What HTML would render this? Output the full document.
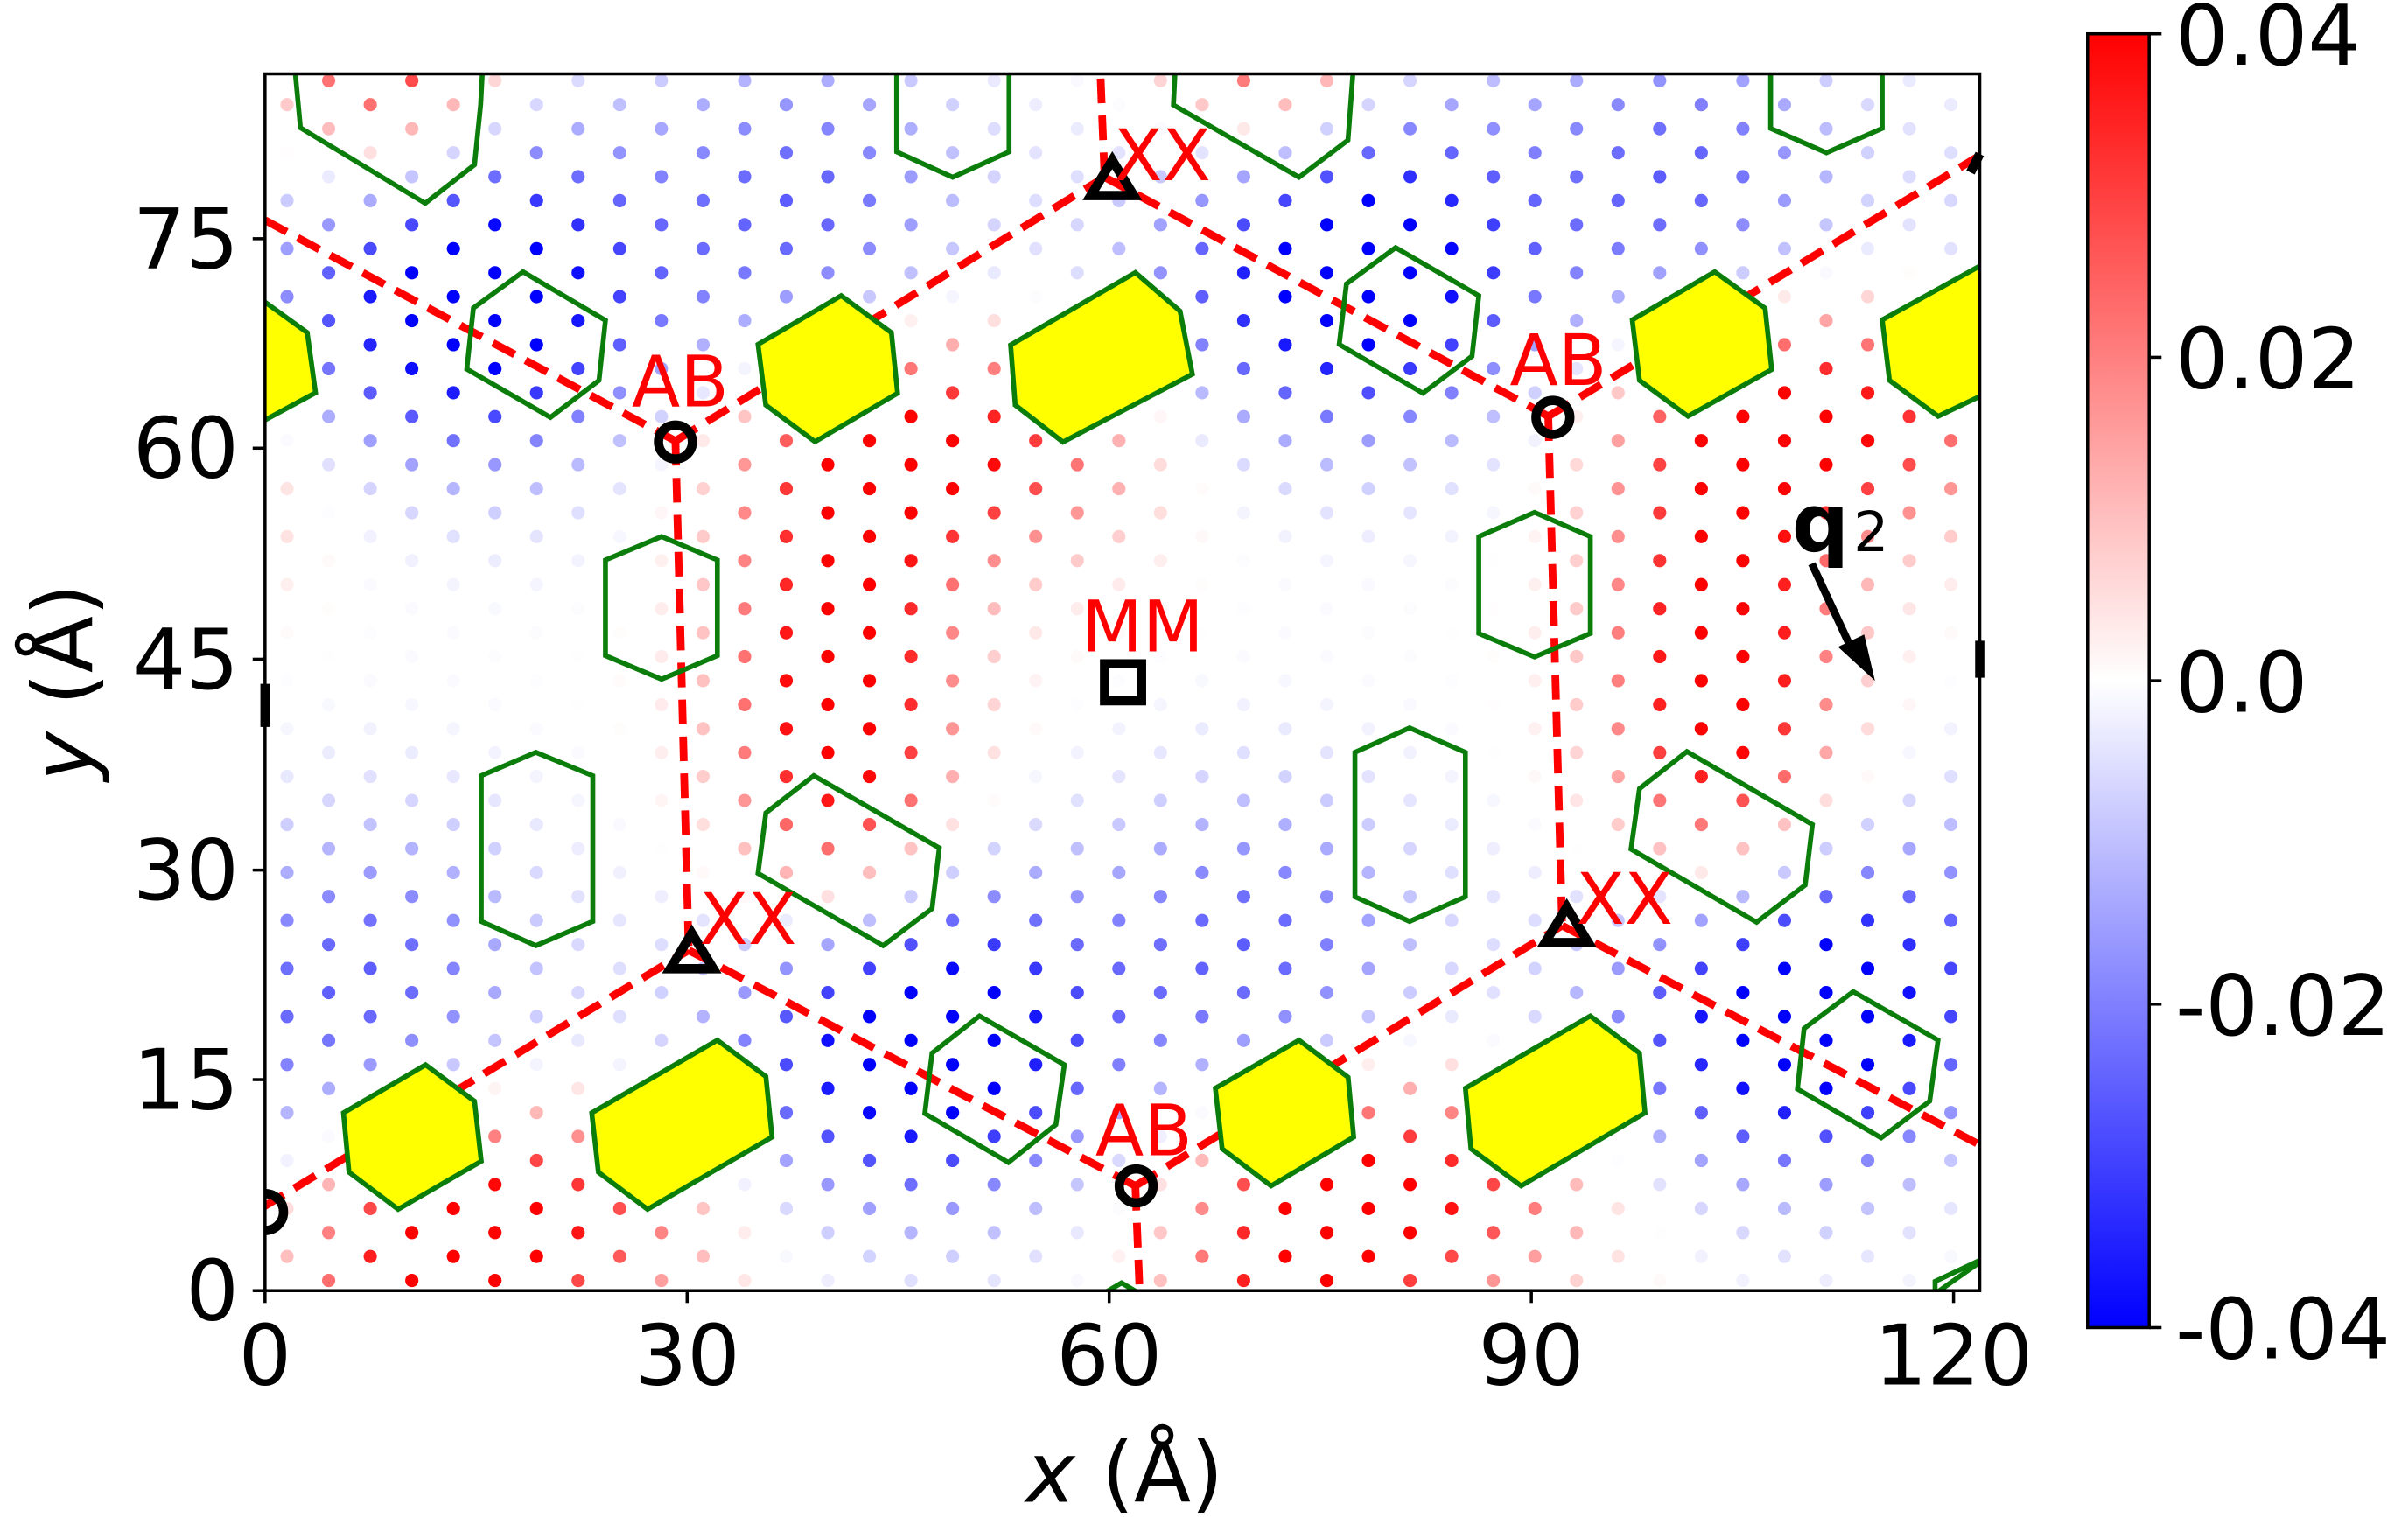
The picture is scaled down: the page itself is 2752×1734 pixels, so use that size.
<!DOCTYPE html>
<html><head><meta charset="utf-8">
<style>html,body{margin:0;padding:0;background:#fff;}svg{display:block;}</style>
</head><body>
<svg id="s" width="2752" height="1734" viewBox="0 0 1563 985" preserveAspectRatio="none" xmlns="http://www.w3.org/2000/svg" font-family="DejaVu Sans, Liberation Sans, sans-serif">
<defs>
<clipPath id="pc"><rect x="172" y="48" width="1113" height="790"/></clipPath>
<linearGradient id="cb" x1="0" y1="0" x2="0" y2="1">
<stop offset="0" stop-color="#ff0000"/><stop offset="0.5" stop-color="#ffffff"/><stop offset="1" stop-color="#0000ff"/>
</linearGradient>
</defs>
<rect width="1563" height="985" fill="#fff"/>
<g id="dots" clip-path="url(#pc)"></g>
<g clip-path="url(#pc)" stroke="#ff0000" stroke-width="5" stroke-dasharray="16,8" fill="none">
<line x1="172" y1="143" x2="438.4" y2="286.3"/>
<line x1="438.4" y1="286.3" x2="717" y2="115"/>
<line x1="717" y1="115" x2="714" y2="40"/>
<line x1="717" y1="115" x2="1005" y2="270.3"/>
<line x1="1005" y1="270.3" x2="1290" y2="98"/>
<line x1="438.4" y1="286.3" x2="447" y2="617"/>
<line x1="1005" y1="270.3" x2="1014" y2="601"/>
<line x1="170.4" y1="784" x2="447" y2="617"/>
<line x1="447" y1="617" x2="737" y2="770"/>
<line x1="737" y1="770" x2="740" y2="845"/>
<line x1="737" y1="770" x2="1014" y2="601"/>
<line x1="1014" y1="601" x2="1290" y2="746"/>
</g>
<g clip-path="url(#pc)" stroke="#0a7d0a" stroke-width="3.2" stroke-linejoin="miter">
<g fill="none">
<polygon points="195,83 276,132 308,107 312,68 314,30 190,30"/>
<polygon points="339.5,176.5 393,208 388.8,247 357.3,271 303,239.6 307.3,200"/>
<polygon points="582,98.6 618.4,115.1 655,98.6 655,30 582,30"/>
<polygon points="393,363.6 429.4,348.4 465.6,363.6 465.6,425.7 429.4,441 393,425.7"/>
<polygon points="761.7,68.2 843.2,115.1 875,91 879.5,30 763.6,30"/>
<polygon points="905.9,160.8 959.9,192 955.5,231.3 923.6,255.3 869.3,223.6 874,184.3"/>
<polygon points="1149.3,30 1149.3,83.4 1185.5,99.2 1221.7,83.4 1221.7,30"/>
<polygon points="959.9,348.4 996.1,332.7 1032.3,348.4 1032.3,411.3 996.1,426.5 959.9,411.3"/>
<polygon points="312.4,503.7 347.9,488.5 384.8,503.7 384.8,598.3 347.9,614 312.4,598.3"/>
<polygon points="528.2,503.7 609.7,550.6 605,590 573.2,614 492,567.1 497.1,527.8"/>
<polygon points="635.8,659.7 690.9,691.4 685.4,730.2 654.6,754.8 600.3,723 605,683.8"/>
<polygon points="879.5,488.5 915,472.6 951.2,488.5 951.2,582.3 915,598.3 879.5,582.3"/>
<polygon points="1095,488 1176.4,535.4 1171.7,574.7 1140.2,598.8 1058.7,551.4 1064.2,512.1"/>
<polygon points="1202.9,643.9 1257.9,675.4 1252.5,715 1221,738.8 1166.7,707.1 1171,667.8"/>
<polygon points="716,840 728,833 740,840"/>
<polygon points="1256,840 1256,832 1290,816"/>
</g>
<g fill="#ffff00">
<polygon points="150,180 170.4,195 199.4,216 204.8,255 170.4,273.6 150,290"/>
<polygon points="546,192 578.6,216 582.6,255.3 529,286.8 497,263 492,223.6"/>
<polygon points="656,224 737,177 766,202 774,243 690,287 659,263"/>
<polygon points="1113,176.5 1145.7,200.1 1150,239.9 1095.7,270.3 1064.2,247 1059.5,207.7"/>
<polygon points="1221.7,207.7 1290,170 1290,255 1258,270.3 1226.4,247"/>
<polygon points="276.2,691.4 308,715 312.4,754 258.4,785.2 226.5,761.1 222.9,722.6"/>
<polygon points="465.6,675.4 497.1,699 501.1,738.3 420.3,785.2 388.4,761.1 384.1,722.6"/>
<polygon points="843.2,675.4 875.1,699.5 878.7,738.3 825.1,770 793.3,745.9 788.9,706.6"/>
<polygon points="1032.3,659.7 1064.2,683.8 1067.8,722.6 987.4,770 954.8,745.9 951.2,706.6"/>
</g>
</g>
<g fill="none" stroke="#000" stroke-width="6">
<circle cx="438.4" cy="287" r="11"/>
<circle cx="1008" cy="271" r="11"/>
<circle cx="737.5" cy="770" r="11"/>
<path d="M172,775 A12,12 0 0 1 172,799"/>
<polygon points="708,127 736,127 722,104"/>
<polygon points="435,629 463,629 449,606"/>
<polygon points="1003,612 1031,612 1017,589"/>
<path d="M1279,112 L1285,100"/>
<rect x="717" y="431" width="24" height="24"/>
<line x1="172" y1="444" x2="172" y2="472"/>
<line x1="1285" y1="416" x2="1285" y2="440"/>
</g>
<g fill="#ff0000" font-size="46">
<text x="410" y="264">AB</text>
<text x="980" y="250">AB</text>
<text x="711" y="750">AB</text>
<text x="723" y="117">XX</text>
<text x="454" y="613">XX</text>
<text x="1023" y="600">XX</text>
<text x="702" y="423">MM</text>
</g>
<text x="1163" y="358" font-size="52" font-weight="bold" fill="#000">q</text>
<text x="1203" y="358" font-size="36" fill="#000">2</text>
<line x1="1176" y1="366" x2="1203" y2="424" stroke="#000" stroke-width="5"/>
<polygon points="1217,442 1193,420 1210,412" fill="#000"/>
<rect x="172" y="48" width="1113" height="790" fill="none" stroke="#000" stroke-width="2"/>
<g stroke="#000" stroke-width="2">
<line x1="172" y1="838" x2="172" y2="846"/><line x1="446" y1="838" x2="446" y2="846"/><line x1="720" y1="838" x2="720" y2="846"/><line x1="994" y1="838" x2="994" y2="846"/><line x1="1268" y1="838" x2="1268" y2="846"/>
<line x1="164" y1="838" x2="172" y2="838"/><line x1="164" y1="701" x2="172" y2="701"/><line x1="164" y1="565" x2="172" y2="565"/><line x1="164" y1="428" x2="172" y2="428"/><line x1="164" y1="291" x2="172" y2="291"/><line x1="164" y1="155" x2="172" y2="155"/>
</g>
<g font-size="54" fill="#000">
<g text-anchor="middle">
<text x="172" y="899">0</text><text x="446" y="899">30</text><text x="720" y="899">60</text><text x="994" y="899">90</text><text x="1268" y="899">120</text>
</g>
<g text-anchor="end">
<text x="155" y="857">0</text><text x="155" y="720">15</text><text x="155" y="584">30</text><text x="155" y="447">45</text><text x="155" y="310">60</text><text x="155" y="174">75</text>
</g>
<text x="730" y="975" text-anchor="middle"><tspan font-style="italic">x</tspan> (Å)</text>
<text transform="translate(60,443) rotate(-90)" text-anchor="middle"><tspan font-style="italic">y</tspan> (Å)</text>
</g>
<rect x="1355" y="22" width="40" height="840" fill="url(#cb)" stroke="#000" stroke-width="2"/>
<g stroke="#000" stroke-width="2">
<line x1="1395" y1="22" x2="1403" y2="22"/><line x1="1395" y1="232" x2="1403" y2="232"/><line x1="1395" y1="442" x2="1403" y2="442"/><line x1="1395" y1="652" x2="1403" y2="652"/><line x1="1395" y1="862" x2="1403" y2="862"/>
</g>
<g font-size="54" fill="#000">
<text x="1412" y="42">0.04</text><text x="1412" y="252">0.02</text><text x="1412" y="462">0.0</text><text x="1412" y="672">-0.02</text><text x="1412" y="882">-0.04</text>
</g>
</svg>
<script>
(function(){
var g=document.getElementById('dots');
var blobs=[[46,18,9,8,-0.055],[8,22,8,8,-0.025],[41,42,5.5,12,0.05],[18,5,9,5.5,0.04]];
function val(X,Y){var v=0;for(var b=0;b<blobs.length;b++){var B=blobs[b];
for(var n=-3;n<=3;n++)for(var m=-2;m<=2;m++){var cx=B[0]+n*62.5+m*30.5,cy=B[1]+n*2+m*55;
var dx=X-cx,dy=Y-cy;v+=B[4]*Math.exp(-dx*dx/(2*B[2]*B[2])-dy*dy/(2*B[3]*B[3]));}}return v;}
var h='';
for(var k=-1;k<=50;k++){var y=68+15.58*k;if(y<46||y>840)continue;
var off=(k%2!==0)?27:0;
for(var j=-1;j<25;j++){var x=186.3+54*j+off;if(x<170||x>1287)continue;
var X=(x-172)/9.133,Y=(838-y)/9.12;var v=val(X,Y);var t=(v+0.04)/0.08;t=Math.max(0,Math.min(1,t));
var r,gg,bb;if(t<0.5){r=gg=Math.round(255*2*t);bb=255;}else{r=255;gg=bb=Math.round(255*2*(1-t));}
h+='<circle cx="'+x.toFixed(1)+'" cy="'+y.toFixed(1)+'" r="4.3" fill="rgb('+r+','+gg+','+bb+')"/>';}}
g.innerHTML=h;
})();
</script>
</body></html>
